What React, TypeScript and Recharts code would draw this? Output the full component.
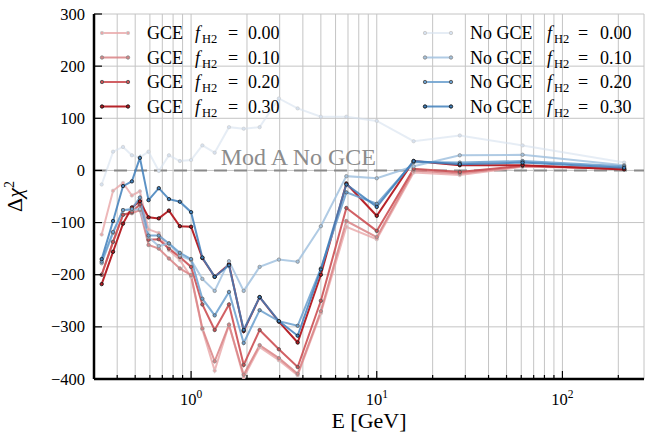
import React from 'react';
import { LineChart, Line, XAxis, YAxis, CartesianGrid, ReferenceLine, Legend } from 'recharts';

// ---- data ----
const energies = [0.33, 0.38, 0.43, 0.48, 0.53, 0.59, 0.67, 0.76, 0.87, 1.0, 1.15, 1.34, 1.6, 1.92, 2.34, 2.97, 3.75, 5.0, 6.86, 10.0, 15.8, 28.0, 61.0, 215.0];

const gce000 = [-123, -39, -24, -48, -40, -113, -120, -153, -172, -204, -305, -384, -296, -397, -339, -364, -393, -274, -108, -132, -4, -9, 7, 4];
const gce010 = [-200, -137, -85, -82, -76, -143, -150, -169, -188, -201, -303, -366, -296, -392, -335, -360, -390, -270, -97, -128, 0, -6, 8, 3];
const gce020 = [-200, -137, -85, -80, -65, -133, -132, -150, -166, -185, -257, -306, -257, -373, -306, -343, -377, -250, -72, -116, 3, -3, 9, 3];
const gce030 = [-218, -156, -102, -71, -59, -90, -92, -77, -107, -108, -168, -204, -180, -308, -243, -290, -330, -200, -25, -87, 18, 10, 10, 2];
const noGce000 = [-27, 36, 45, 29, 25, 36, -1, 29, 18, 20, 48, 34, 83, 80, 83, 138, 119, 103, 103, 95, 56, 67, 48, 15];
const noGce010 = [-178, -120, -76, -76, -74, -128, -145, -140, -163, -172, -208, -231, -174, -231, -185, -171, -175, -107, -11, -15, 8, 29, 30, 10];
const noGce020 = [-175, -118, -76, -74, -52, -125, -125, -140, -158, -170, -246, -278, -233, -331, -268, -289, -298, -188, -42, -64, 16, 15, 18, 8];
const noGce030 = [-170, -97, -30, -21, 24, -57, -34, -55, -60, -80, -167, -204, -182, -306, -243, -289, -317, -190, -27, -70, 18, 12, 15, 5];

const fractions = ['0.00', '0.10', '0.20', '0.30'];
const xMajorTicks = [1, 10, 100];
const xTicks = [0.3, 0.4, 0.5, 0.6, 0.7, 0.8, 0.9, 1, 2, 3, 4, 5, 6, 7, 8, 9, 10, 20, 30, 40, 50, 60, 70, 80, 90, 100, 200];
const yTicks = [-400, -300, -200, -100, 0, 100, 200, 300];
const refLabel = 'Mod A No GCE';

// ---- styling ----
const FONT = 'Liberation Serif, Times New Roman, DejaVu Serif, serif';
const redColors = ['#e8a6a8', '#d98385', '#cc4f53', '#b3181f'];
const redOpacity = [0.8, 0.85, 0.9, 0.95];
const blueColors = ['#d6e1ef', '#a2c2df', '#6a9fce', '#3f7fbb'];
const blueOpacity = [0.6, 0.85, 0.85, 0.85];
const edgeColors = ['#c8c8c8', '#8a8a8a', '#555555', '#111111'];

const gceSeries = [gce000, gce010, gce020, gce030];
const noSeries = [noGce000, noGce010, noGce020, noGce030];

const rows = energies.map((E, i) => {
  const r: any = { E };
  gceSeries.forEach((s, k) => (r['g' + k] = s[i]));
  noSeries.forEach((s, k) => (r['n' + k] = s[i]));
  return r;
});

const seriesDefs = [
  ...fractions.map((f, k) => ({ key: 'g' + k, group: 'GCE', frac: f, color: redColors[k], op: redOpacity[k], edge: edgeColors[k] })),
  ...fractions.map((f, k) => ({ key: 'n' + k, group: 'No GCE', frac: f, color: blueColors[k], op: blueOpacity[k], edge: edgeColors[k] })),
];

const tf = { fontFamily: FONT };
const supExp = (v: number) => String(Math.round(Math.log10(v)));

const XTickBottom = (props: any) => {
  const { x, y, payload } = props;
  const major = xMajorTicks.includes(payload.value);
  return (
    <g>
      <line x1={x} x2={x} y1={y} y2={y - (major ? 8 : 4)} stroke="#000" strokeWidth={1.2} />
      {major && (
        <text x={x} y={y + 26} textAnchor="middle" style={tf} fontSize={16.5} fill="#000">
          10<tspan dy={-7} fontSize={11.5}>{supExp(payload.value)}</tspan>
        </text>
      )}
    </g>
  );
};

const XTickTop = (props: any) => {
  const { x, y, payload } = props;
  const major = xMajorTicks.includes(payload.value);
  return <line x1={x} x2={x} y1={y} y2={y + (major ? 8 : 4)} stroke="#000" strokeWidth={1.2} />;
};

const fmtY = (v: number) => (v < 0 ? '\u2212' + Math.abs(v) : String(v));

const YTickLeft = (props: any) => {
  const { x, y, payload } = props;
  return (
    <g>
      <line x1={x} x2={x + 8} y1={y} y2={y} stroke="#000" strokeWidth={1.2} />
      <text x={x - 9} y={y + 5.5} textAnchor="end" style={tf} fontSize={16.5} fill="#000">
        {fmtY(payload.value)}
      </text>
    </g>
  );
};

const YTickRight = (props: any) => {
  const { x, y } = props;
  return <line x1={x} x2={x - 8} y1={y} y2={y} stroke="#000" strokeWidth={1.2} />;
};

const LegendRow = ({ d, lx, tx, offs, y }: any) => (
  <g>
    <line x1={lx} x2={lx + 26} y1={y} y2={y} stroke={d.color} strokeOpacity={d.op} strokeWidth={2} />
    <circle cx={lx} cy={y} r={1.7} fill={d.color} stroke={d.edge} strokeWidth={0.9} />
    <circle cx={lx + 26} cy={y} r={1.7} fill={d.color} stroke={d.edge} strokeWidth={0.9} />
    <text style={tf} fontSize={18} fill="#000">
      <tspan x={tx} y={y + 6}>{d.group}</tspan>
      <tspan x={tx + offs[0]} y={y + 6} fontStyle="italic">f</tspan>
      <tspan x={tx + offs[1]} y={y + 10} fontSize={12.5}>H2</tspan>
      <tspan x={tx + offs[2]} y={y + 6}>=</tspan>
      <tspan x={tx + offs[3]} y={y + 6}>{d.frac}</tspan>
    </text>
  </g>
);

const renderLegend = () => {
  const rowsY = [33, 57.5, 82, 106.5];
  return (
    <svg width={645} height={130} style={{ display: 'block' }}>
      {seriesDefs.slice(0, 4).map((d, i) => (
        <LegendRow key={d.key} d={d} lx={102} tx={147} offs={[48, 55, 81, 101]} y={rowsY[i]} />
      ))}
      {seriesDefs.slice(4).map((d, i) => (
        <LegendRow key={d.key} d={d} lx={425} tx={470} offs={[77, 84, 108, 130]} y={rowsY[i]} />
      ))}
    </svg>
  );
};

export default function App() {
  return (
    <div style={{ position: 'absolute', left: 0, top: 0, width: 645, height: 441, background: '#fff', fontFamily: FONT }}>
      <LineChart width={645} height={441} data={rows} margin={{ top: 14, right: 1, bottom: 0, left: 0 }}>
        <CartesianGrid xAxisId="b" yAxisId="l" stroke="#c4c4c4" strokeWidth={1} />
        <XAxis
          xAxisId="b"
          dataKey="E"
          type="number"
          scale="log"
          domain={[0.3, 275]}
          allowDataOverflow
          ticks={xTicks}
          interval={0}
          height={62}
          tickSize={0}
          tickMargin={0}
          tickLine={false}
          axisLine={{ stroke: '#000', strokeWidth: 2.5 }}
          tick={(p: any) => <XTickBottom {...p} />}
          label={(p: any) => {
            const vb = p.viewBox || {};
            return (
              <text x={vb.x + vb.width / 2} y={vb.y + 49} textAnchor="middle" style={tf} fontSize={22} fill="#000">
                E [GeV]
              </text>
            );
          }}
        />
        <XAxis
          xAxisId="t"
          orientation="top"
          dataKey="E"
          type="number"
          scale="log"
          domain={[0.3, 275]}
          allowDataOverflow
          ticks={xTicks}
          interval={0}
          height={0}
          tickSize={0}
          tickMargin={0}
          tickLine={false}
          axisLine={{ stroke: '#000', strokeWidth: 2.5 }}
          tick={(p: any) => <XTickTop {...p} />}
        />
        <YAxis
          yAxisId="l"
          type="number"
          domain={[-400, 300]}
          allowDataOverflow
          ticks={yTicks}
          interval={0}
          width={94}
          tickSize={0}
          tickMargin={0}
          tickLine={false}
          axisLine={{ stroke: '#000', strokeWidth: 2.5 }}
          tick={(p: any) => <YTickLeft {...p} />}
          label={(p: any) => {
            const vb = p.viewBox || {};
            const cx = 22;
            const cy = vb.y + vb.height / 2;
            return (
              <text x={cx} y={cy} transform={`rotate(-90 ${cx} ${cy})`} textAnchor="middle" style={tf} fontSize={22} fill="#000">
                <tspan>Δ</tspan>
                <tspan fontStyle="italic">χ</tspan>
                <tspan dy={-8} fontSize={14}>2</tspan>
              </text>
            );
          }}
        />
        <YAxis
          yAxisId="r"
          orientation="right"
          type="number"
          domain={[-400, 300]}
          allowDataOverflow
          ticks={yTicks}
          interval={0}
          width={0}
          tickSize={0}
          tickMargin={0}
          tickLine={false}
          axisLine={{ stroke: '#000', strokeWidth: 2.5 }}
          tick={(p: any) => <YTickRight {...p} />}
        />
        <ReferenceLine
          xAxisId="b"
          yAxisId="l"
          y={0}
          stroke="#8a8a8a"
          strokeWidth={2}
          strokeDasharray="13 7"
          label={(p: any) => {
            const vb = p.viewBox || {};
            return (
              <text x={vb.x + 282} y={vb.y - 5} textAnchor="end" style={tf} fontSize={24} fill="#8c8c8c">
                {refLabel}
              </text>
            );
          }}
        />
        {seriesDefs.map((d) => (
          <Line
            key={d.key}
            xAxisId="b"
            yAxisId="l"
            type="linear"
            dataKey={d.key}
            stroke={d.color}
            strokeOpacity={d.op}
            strokeWidth={2}
            dot={{ r: 1.7, fill: d.color, stroke: d.edge, strokeWidth: 0.9 }}
            activeDot={false}
            isAnimationActive={false}
          />
        ))}
        <Legend
          layout="vertical"
          align="center"
          verticalAlign="middle"
          content={renderLegend}
          wrapperStyle={{ position: 'absolute', left: 0, top: 0, width: 645, height: 130, pointerEvents: 'none' }}
        />
      </LineChart>
    </div>
  );
}
